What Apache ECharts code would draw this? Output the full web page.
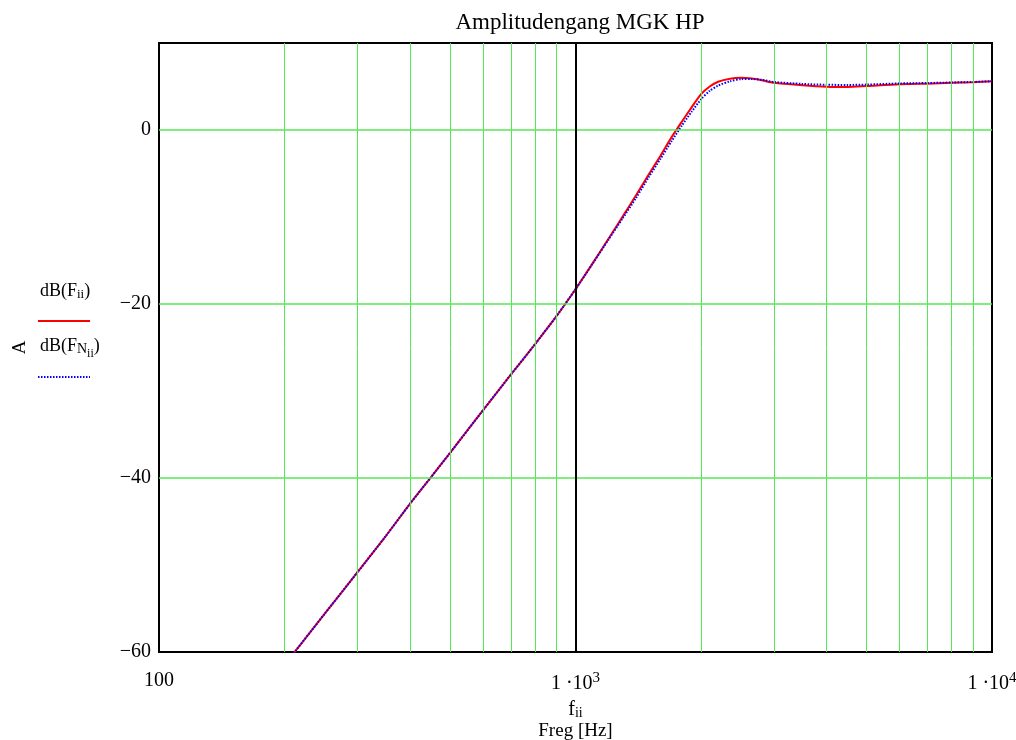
<!DOCTYPE html>
<html>
<head>
<meta charset="utf-8">
<script src="https://cdn.jsdelivr.net/npm/echarts@6/dist/echarts.min.js"></script>
<style>
  html, body { margin: 0; padding: 0; background: #fff; }
  #chart { width: 1016px; height: 740px; }
</style>
</head>
<body>
<div id="chart"></div>
<script>
// Frequenzen [Hz]
var freq = [200, 250, 300, 350, 400, 450, 500, 600, 700, 800, 900, 1000, 1100, 1200, 1300, 1400, 1500, 1600, 1700, 1800, 1900, 2000, 2100, 2200, 2350, 2500, 2650, 2800, 3000, 3500, 4000, 4500, 5000, 6000, 7000, 8000, 9000, 10000];
// dB(F_ii)
var dbF = [-61.5, -55.6, -50.8, -46.7, -43.0, -39.9, -37.1, -32.2, -28.1, -24.6, -21.4, -18.3, -15.3, -12.5, -9.9, -7.45, -5.1, -2.95, -0.85, 0.95, 2.6, 4.1, 5.0, 5.55, 5.9, 6.0, 5.92, 5.72, 5.42, 5.15, 4.98, 4.94, 5.05, 5.25, 5.33, 5.42, 5.5, 5.6];
// dB(F_N_ii)
var dbFN = [-61.5, -55.6, -50.8, -46.7, -43.0, -39.9, -37.1, -32.2, -28.1, -24.6, -21.4, -18.3, -15.35, -12.6, -10.1, -7.75, -5.4, -3.3, -1.3, 0.5, 2.1, 3.5, 4.5, 5.1, 5.6, 5.85, 5.86, 5.76, 5.52, 5.3, 5.2, 5.18, 5.22, 5.35, 5.4, 5.46, 5.52, 5.6];
// Nebengitter (x)
var minorGrid = [200, 300, 400, 500, 600, 700, 800, 900, 2000, 3000, 4000, 5000, 6000, 7000, 8000, 9000];
var markerX = 1000;
var yTicks = [-60, -40, -20, 0];
var yGrid = [-40, -20, 0];

var serif = '"Liberation Serif", "DejaVu Serif", serif';
var gridGreen = '#55e855';
var chart = echarts.init(document.getElementById('chart'));

function pairs(xs, ys) {
  var out = [];
  for (var i = 0; i < xs.length; i++) out.push([xs[i], ys[i]]);
  return out;
}

var gridLines = minorGrid.map(function (f) { return { xAxis: f }; })
  .concat(yGrid.map(function (v) { return { yAxis: v, lineStyle: { color: gridGreen, width: 1.5 } }; }))
  .concat([{ xAxis: markerX, lineStyle: { color: '#000', width: 2 } }]);

var option = {
  animation: false,
  backgroundColor: '#fff',
  title: {
    text: 'Amplitudengang MGK HP',
    left: 575, top: 6, textAlign: 'center',
    textStyle: { fontFamily: serif, fontSize: 23, fontWeight: 'normal', color: '#000' }
  },
  grid: {
    left: 159, right: 24, top: 43, bottom: 88,
    outerBoundsMode: 'none',
    containLabel: false,
    show: true, borderColor: '#000', borderWidth: 2, backgroundColor: '#fff'
  },
  xAxis: {
    type: 'log', logBase: 10, min: 100, max: 10000,
    axisLine: { show: false },
    axisTick: { show: false },
    splitLine: { show: false },
    axisLabel: {
      margin: 19,
      fontFamily: serif, fontSize: 20, color: '#000',
      formatter: function (v) {
        if (v < 500) return '100';
        var e = Math.round(Math.log10(v));
        return '1 ·10{sup|' + e + '}';
      },
      rich: {
        sup: { fontFamily: serif, fontSize: 15, color: '#000', verticalAlign: 'top', padding: [0, 0, 10, 0] }
      }
    },
    name: '{f|f}{s|ii}\n{n|Freg [Hz]}',
    nameLocation: 'middle',
    nameGap: 39,
    nameTextStyle: {
      align: 'center',
      rich: {
        f: { fontFamily: serif, fontSize: 20, color: '#000', lineHeight: 22 },
        s: { fontFamily: serif, fontSize: 14, color: '#000', verticalAlign: 'bottom', padding: [8, 0, 0, 0], lineHeight: 22 },
        n: { fontFamily: serif, fontSize: 19, color: '#000', lineHeight: 22 }
      }
    }
  },
  yAxis: {
    type: 'value', min: -60, max: 10, interval: 20,
    axisLine: { show: false },
    axisTick: { show: false },
    splitLine: { show: false },
    axisLabel: {
      margin: 8,
      fontFamily: serif, fontSize: 20, color: '#000',
      showMaxLabel: false,
      formatter: function (v) {
        if (yTicks.indexOf(v) < 0) return '';
        return v < 0 ? '\u2212' + Math.abs(v) : String(v);
      }
    },
    name: 'A',
    nameLocation: 'middle',
    nameRotate: 90,
    nameGap: 129,
    nameTextStyle: { fontFamily: serif, fontSize: 19, color: '#000' }
  },
  graphic: [
    {
      type: 'text', left: 40, top: 282,
      style: {
        text: 'dB(F{s|ii})',
        font: '18px ' + serif, fill: '#000',
        rich: { s: { fontFamily: serif, fontSize: 13, fill: '#000', padding: [8, 0, 0, 0] } }
      }
    },
    { type: 'line', shape: { x1: 38, y1: 321, x2: 90, y2: 321 }, style: { stroke: '#ff0000', lineWidth: 2 } },
    {
      type: 'text', left: 40, top: 337,
      style: {
        text: 'dB(F{n|N}{s|ii})',
        font: '18px ' + serif, fill: '#000',
        rich: {
          n: { fontFamily: serif, fontSize: 14, fill: '#000', padding: [6, 0, 0, 0] },
          s: { fontFamily: serif, fontSize: 12, fill: '#000', padding: [16, 0, 0, 0] }
        }
      }
    },
    { type: 'line', shape: { x1: 38, y1: 377, x2: 90, y2: 377 }, style: { stroke: '#0000ff', lineWidth: 2, lineDash: [1.5, 1.5] } }
  ],
  series: [
    {
      name: 'grid',
      type: 'line',
      data: [],
      z: 1,
      silent: true,
      markLine: {
        silent: true,
        symbol: ['none', 'none'],
        label: { show: false },
        lineStyle: { color: gridGreen, width: 1, type: 'solid' },
        data: gridLines
      }
    },
    {
      name: 'dB(F_ii)',
      type: 'line',
      z: 3,
      data: pairs(freq, dbF),
      smooth: 0.25,
      showSymbol: false,
      lineStyle: { color: '#ff0000', width: 2 }
    },
    {
      name: 'dB(F_N_ii)',
      type: 'line',
      z: 4,
      data: pairs(freq, dbFN),
      smooth: 0.25,
      showSymbol: false,
      lineStyle: { color: '#0000ff', width: 2, type: [1.5, 1.5] }
    }
  ]
};

chart.setOption(option);
</script>
</body>
</html>
